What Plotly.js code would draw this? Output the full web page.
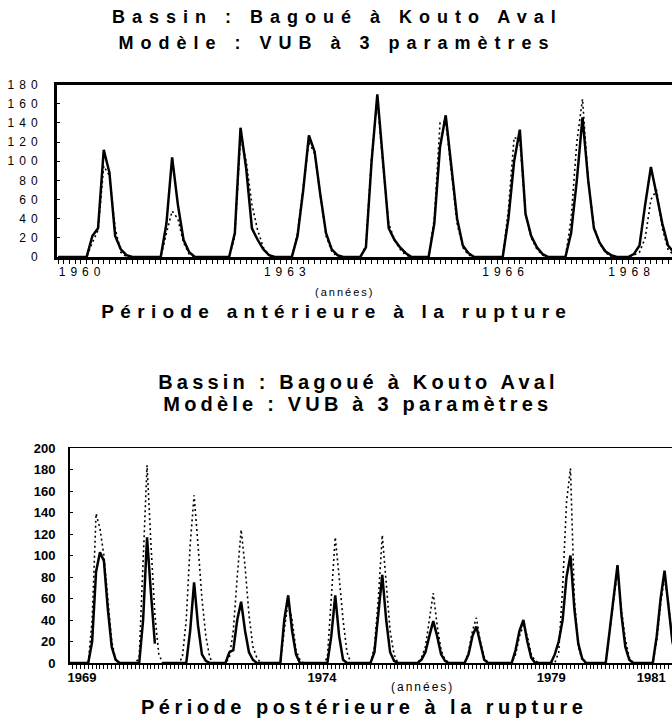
<!DOCTYPE html>
<html>
<head>
<meta charset="utf-8">
<script src="https://cdn.plot.ly/plotly-3.0.1.min.js"></script>
<style>
  html, body { margin: 0; padding: 0; background: #fff; }
  #chart { width: 672px; height: 722px; }
  .subplot.xy .xtick text, .subplot.xy .ytick text { letter-spacing: 5px; }
  .subplot.x2y2 .xtick text, .subplot.x2y2 .ytick text { letter-spacing: 2px; }
  .annotation[data-index="0"] text, .annotation[data-index="1"] text { letter-spacing: 7px; }
  .annotation[data-index="2"] text { letter-spacing: 2px; }
  .annotation[data-index="3"] text { letter-spacing: 6.3px; }
  .annotation[data-index="4"] text, .annotation[data-index="5"] text { letter-spacing: 4.2px; }
  .annotation[data-index="6"] text { letter-spacing: 2px; }
  .annotation[data-index="7"] text { letter-spacing: 4.5px; }
</style>
</head>
<body>
<div id="chart"></div>
<script>
// ---- Période antérieure (monthly, index 0 = first month shown) ----
var topObserved = [
  0,0,0,0,0,0,22,30,112,88,22,8,
  2,0,0,0,0,0,0,35,104,55,18,5,
  0,0,0,0,0,0,0,25,135,92,30,18,
  8,2,0,0,0,0,22,70,127,110,65,25,
  8,2,0,0,0,0,10,100,170,100,30,18,
  10,4,0,0,0,0,35,115,148,92,40,12,
  4,0,0,0,0,0,0,40,100,133,45,22,
  10,3,0,0,0,0,25,80,146,80,30,15,
  6,2,0,0,0,3,12,55,94,65,35,12,
  5
];
var topSimulated = [
  0,0,0,0,0,0,15,28,95,85,30,5,
  0,0,0,0,0,0,0,25,48,40,15,3,
  0,0,0,0,0,0,0,22,125,100,55,28,
  10,2,0,0,0,0,25,75,120,108,62,22,
  6,0,0,0,0,0,12,105,165,95,35,18,
  8,2,0,0,0,0,40,140,142,90,35,10,
  2,0,0,0,0,0,0,50,125,122,45,20,
  8,2,0,0,0,0,40,120,165,80,32,14,
  5,0,0,0,0,2,5,20,60,70,30,8,
  2
];
var topTickPos = [4.2, 40.2, 78.5, 100.6];
var topTickText = ['1960', '1963', '1966', '1968'];
var topYTicks = [0, 20, 40, 60, 80, 100, 120, 140, 160, 180];

// ---- Période postérieure ----
var botObserved = [
  0,0,0,0,0,0,20,85,103,95,50,15,
  3,0,0,0,0,0,0,40,117,65,18,null,
  0,0,0,0,0,0,0,30,75,35,8,2,
  0,0,0,0,0,10,12,40,57,30,10,3,
  0,0,0,0,0,0,0,40,63,30,8,0,
  0,0,0,0,0,0,0,25,63,25,3,0,
  0,0,0,0,0,0,10,45,82,40,10,2,
  0,0,0,0,0,0,3,10,25,39,25,8,
  2,0,0,0,0,0,8,25,34,18,3,0,
  0,0,0,0,0,0,12,30,40,20,5,0,
  0,0,0,0,8,20,40,80,100,50,18,4,
  0,0,0,0,0,0,30,60,91,45,15,3,
  0,0,0,0,0,0,25,60,86,50,20,5
];
var botSimulated = [
  0,0,0,0,0,0,40,139,125,100,60,20,
  3,0,0,0,0,0,5,100,184,110,45,8,
  0,0,0,0,0,5,40,110,156,110,60,25,
  5,0,0,0,0,5,30,80,124,90,45,15,
  5,0,0,0,0,0,0,30,58,40,12,3,
  0,0,0,0,0,0,5,60,117,80,40,10,
  0,0,0,0,0,0,15,60,119,70,30,8,
  0,0,0,0,0,0,5,15,40,65,35,12,
  3,0,0,0,0,0,10,30,42,20,5,0,
  0,0,0,0,0,0,8,25,35,25,8,2,
  0,0,0,0,0,10,70,150,181,60,15,3,
  0,0,0,0,0,0,30,60,85,50,22,5,
  0,0,0,0,0,0,20,55,80,55,20,5
];
var botTickPos = [3.4, 64.6, 123.1, 148.6];
var botTickText = ['1969', '1974', '1979', '1981'];
var botYTicks = [0, 20, 40, 60, 80, 100, 120, 140, 160, 180, 200];

var titleLine1 = 'Bassin : Bagoué à Kouto Aval';
var titleLine2 = 'Modèle : VUB à 3 paramètres';
var axisUnit = '(années)';
var topCaption = 'Période antérieure à la rupture';
var botCaption = 'Période postérieure à la rupture';

function idx(arr) { return arr.map(function (_, i) { return i; }); }

var FONT = 'Liberation Sans, Arial, sans-serif';
var H = 722, W = 672;
function py(p) { return 1 - p / H; }
function px(p) { return p / W; }

var traces = [
  { x: idx(topSimulated), y: topSimulated, xaxis: 'x', yaxis: 'y', mode: 'lines',
    line: { color: '#000', width: 1.6, dash: '2px,3px' }, hoverinfo: 'skip', name: 'simulé' },
  { x: idx(topObserved), y: topObserved, xaxis: 'x', yaxis: 'y', mode: 'lines',
    line: { color: '#000', width: 2.5 }, hoverinfo: 'skip', name: 'observé' },
  { x: idx(botSimulated), y: botSimulated, xaxis: 'x2', yaxis: 'y2', mode: 'lines',
    line: { color: '#000', width: 1.6, dash: '2px,3px' }, hoverinfo: 'skip', name: 'simulé' },
  { x: idx(botObserved), y: botObserved, xaxis: 'x2', yaxis: 'y2', mode: 'lines',
    line: { color: '#000', width: 2.5 }, hoverinfo: 'skip', name: 'observé' }
];

var layout = {
  width: W, height: H,
  margin: { l: 0, r: 0, t: 0, b: 0 },
  paper_bgcolor: '#fff', plot_bgcolor: '#fff',
  showlegend: false,
  font: { family: FONT, color: '#000' },
  xaxis: {
    domain: [px(57), 1], range: [-0.2, 107.7],
    showgrid: false, zeroline: false,
    showline: true, linecolor: '#000', linewidth: 2.5, mirror: true,
    tickmode: 'array', tickvals: topTickPos, ticktext: topTickText,
    ticks: '', ticklabelstandoff: 2,
    tickfont: { family: FONT, size: 12, color: '#000' },
    minor: { tickmode: 'linear', tick0: 0, dtick: 1, ticks: 'outside', ticklen: 4, tickwidth: 1, tickcolor: '#000' }
  },
  yaxis: {
    domain: [py(257), py(84.7)], range: [0, 180],
    showgrid: false, zeroline: false,
    showline: true, linecolor: '#000', linewidth: 3,
    tickmode: 'array', tickvals: topYTicks,
    ticks: 'inside', ticklen: 3, tickwidth: 1, tickcolor: '#000',
    ticklabelstandoff: 9,
    tickfont: { family: FONT, size: 12, color: '#000' }
  },
  xaxis2: {
    anchor: 'y2',
    domain: [px(70), 1], range: [0.35, 153.9],
    showgrid: false, zeroline: false,
    showline: true, linecolor: '#000', linewidth: 1.5, mirror: true,
    tickmode: 'array', tickvals: botTickPos, ticktext: botTickText,
    ticks: '', ticklabelstandoff: 2, ticklabeloverflow: 'allow',
    tickfont: { family: FONT, size: 13, color: '#000', weight: 'bold' },
    minor: { tickmode: 'linear', tick0: 0, dtick: 1, ticks: 'outside', ticklen: 4, tickwidth: 1, tickcolor: '#000' }
  },
  yaxis2: {
    anchor: 'x2',
    domain: [py(663), py(448)], range: [0, 200],
    showgrid: false, zeroline: false,
    showline: true, linecolor: '#000', linewidth: 2,
    tickmode: 'array', tickvals: botYTicks,
    ticks: 'inside', ticklen: 3, tickwidth: 1, tickcolor: '#000',
    ticklabelstandoff: 10,
    tickfont: { family: FONT, size: 13, color: '#000', weight: 'bold' }
  },
  annotations: [
    { text: titleLine1, x: px(337), y: py(17), xref: 'paper', yref: 'paper', xanchor: 'center', yanchor: 'middle', showarrow: false,
      font: { family: FONT, size: 18, weight: 'bold', color: '#000' } },
    { text: titleLine2, x: px(337), y: py(43), xref: 'paper', yref: 'paper', xanchor: 'center', yanchor: 'middle', showarrow: false,
      font: { family: FONT, size: 18, weight: 'bold', color: '#000' } },
    { text: axisUnit, x: px(345), y: py(292), xref: 'paper', yref: 'paper', xanchor: 'center', yanchor: 'middle', showarrow: false,
      font: { family: FONT, size: 11, color: '#000' } },
    { text: topCaption, x: px(337), y: py(311), xref: 'paper', yref: 'paper', xanchor: 'center', yanchor: 'middle', showarrow: false,
      font: { family: FONT, size: 19, weight: 'bold', color: '#000' } },
    { text: titleLine1, x: px(358), y: py(382), xref: 'paper', yref: 'paper', xanchor: 'center', yanchor: 'middle', showarrow: false,
      font: { family: FONT, size: 20, weight: 'bold', color: '#000' } },
    { text: titleLine2, x: px(358), y: py(404), xref: 'paper', yref: 'paper', xanchor: 'center', yanchor: 'middle', showarrow: false,
      font: { family: FONT, size: 20, weight: 'bold', color: '#000' } },
    { text: axisUnit, x: px(422), y: py(687), xref: 'paper', yref: 'paper', xanchor: 'center', yanchor: 'middle', showarrow: false,
      font: { family: FONT, size: 12, color: '#000' } },
    { text: botCaption, x: px(364), y: py(707), xref: 'paper', yref: 'paper', xanchor: 'center', yanchor: 'middle', showarrow: false,
      font: { family: FONT, size: 20, weight: 'bold', color: '#000' } }
  ]
};

Plotly.newPlot('chart', traces, layout, { staticPlot: true, displayModeBar: false });
</script>
</body>
</html>
